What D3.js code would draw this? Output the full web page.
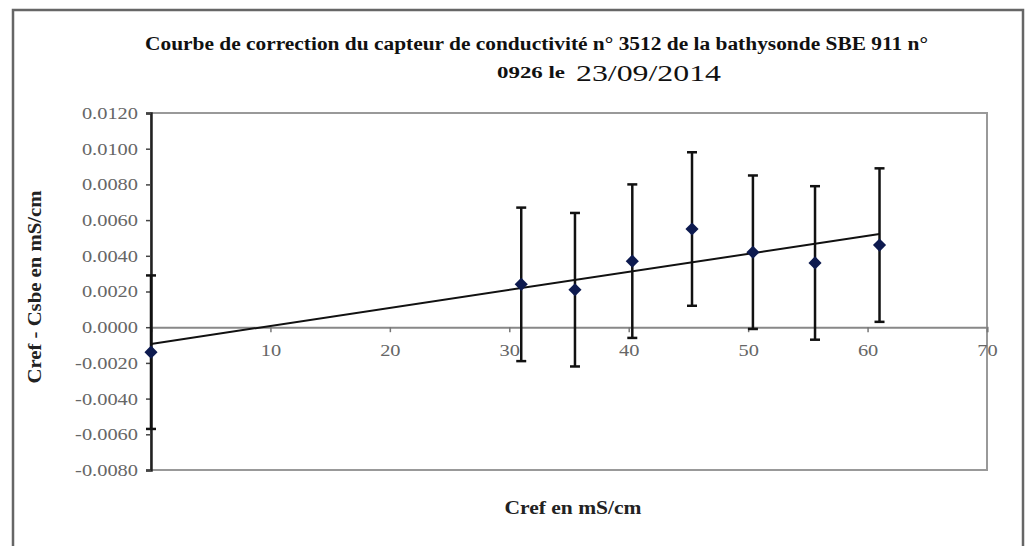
<!DOCTYPE html>
<html>
<head>
<meta charset="utf-8">
<script src="https://cdn.jsdelivr.net/npm/d3@7"></script>
<style>
  body { margin: 0; background: #fff; }
  svg text { font-family: "Liberation Serif", "Times New Roman", serif; }
</style>
</head>
<body>
<div id="chart"></div>
<script>
// valeurs
var cref = [0, 31.0, 35.5, 40.3, 45.3, 50.4, 55.6, 61.0];
var ecart = [-0.0014, 0.0024, 0.0021, 0.0037, 0.0055, 0.0042, 0.0036, 0.0046];
var incertitude = [0.0043, 0.0043, 0.0043, 0.0043, 0.0043, 0.0043, 0.0043, 0.0043];
var xTicks = [10, 20, 30, 40, 50, 60, 70];
var yTicks = [-0.008, -0.006, -0.004, -0.002, 0, 0.002, 0.004, 0.006, 0.008, 0.010, 0.012];

var width = 1036, height = 546;
var serif = '"Liberation Serif", "Times New Roman", serif';

var svg = d3.select('#chart')
    .append('svg')
    .attr('width', width)
    .attr('height', height);

// cadre extérieur
svg.append('rect')
    .attr('x', 13).attr('y', 10)
    .attr('width', 1010).attr('height', 560)
    .attr('fill', 'none')
    .attr('stroke', '#666')
    .attr('stroke-width', 2.5);

var x = d3.scaleLinear().domain([0, 70]).range([151, 987]);
var y = d3.scaleLinear().domain([-0.008, 0.012]).range([470, 113]);

// zone de tracé
svg.append('rect')
    .attr('x', x(0)).attr('y', y(0.012))
    .attr('width', x(70) - x(0)).attr('height', y(-0.008) - y(0.012))
    .attr('fill', 'none')
    .attr('stroke', '#999')
    .attr('stroke-width', 2);

// étire un peu les libellés (police plus large sur l'original)
function etirer(sel, k) {
    sel.each(function () {
        var w = this.getComputedTextLength();
        d3.select(this).attr('textLength', w * k).attr('lengthAdjust', 'spacingAndGlyphs');
    });
}

// axe X à y = 0
var xAxis = d3.axisBottom(x).tickValues(xTicks).tickSize(5).tickFormat(d3.format('d'));
var gx = svg.append('g')
    .attr('transform', 'translate(0,' + y(0) + ')')
    .call(xAxis);
gx.select('.domain').attr('stroke', '#888').attr('stroke-width', 2);
gx.selectAll('.tick line').attr('stroke', '#777').attr('stroke-width', 1.5);
gx.selectAll('.tick text')
    .attr('dy', '1.2em')
    .attr('fill', '#666')
    .style('font-size', '17px')
    .style('font-family', serif)
    .call(etirer, 1.2);

// axe Y
var yAxis = d3.axisLeft(y).tickValues(yTicks).tickSize(5).tickPadding(8)
    .tickFormat(d => d3.format('.4f')(d).replace('\u2212', '-'));
var gy = svg.append('g')
    .attr('transform', 'translate(' + x(0) + ',0)')
    .call(yAxis);
gy.select('.domain').attr('stroke', '#222').attr('stroke-width', 2.5);
gy.selectAll('.tick line').attr('stroke', '#444').attr('stroke-width', 1.5);
gy.selectAll('.tick text')
    .attr('fill', '#666')
    .style('font-size', '17px')
    .style('font-family', serif)
    .call(etirer, 1.2);

// droite de régression (moindres carrés)
var mx = d3.mean(cref), my = d3.mean(ecart);
var sxy = d3.sum(cref, (d, i) => (d - mx) * (ecart[i] - my));
var sxx = d3.sum(cref, d => (d - mx) * (d - mx));
var pente = sxy / sxx;
var origine = my - pente * mx;
var xr = d3.extent(cref);
svg.append('line')
    .attr('x1', x(xr[0])).attr('y1', y(origine + pente * xr[0]))
    .attr('x2', x(xr[1])).attr('y2', y(origine + pente * xr[1]))
    .attr('stroke', '#111')
    .attr('stroke-width', 2);

// barres d'erreur
var points = cref.map((d, i) => ({ x: d, y: ecart[i], e: incertitude[i] }));
var bars = svg.append('g').selectAll('g')
    .data(points)
    .enter()
    .append('g')
    .attr('stroke', '#111')
    .attr('stroke-width', 2.5);
bars.append('line')
    .attr('x1', d => x(d.x)).attr('x2', d => x(d.x))
    .attr('y1', d => y(d.y + d.e)).attr('y2', d => y(d.y - d.e));
bars.append('line')
    .attr('x1', d => x(d.x) - 5).attr('x2', d => x(d.x) + 5)
    .attr('y1', d => y(d.y + d.e)).attr('y2', d => y(d.y + d.e));
bars.append('line')
    .attr('x1', d => x(d.x) - 5).attr('x2', d => x(d.x) + 5)
    .attr('y1', d => y(d.y - d.e)).attr('y2', d => y(d.y - d.e));

// marqueurs losanges
svg.append('g').selectAll('path')
    .data(points)
    .enter()
    .append('path')
    .attr('d', d3.symbol(d3.symbolDiamond2, 110))
    .attr('transform', d => 'translate(' + x(d.x) + ',' + y(d.y) + ')')
    .attr('fill', '#0d1a4f');

// titre
svg.append('text')
    .attr('x', 145).attr('y', 50)
    .attr('textLength', 783)
    .attr('lengthAdjust', 'spacingAndGlyphs')
    .style('font-size', '18px')
    .style('font-weight', 'bold')
    .attr('fill', '#111')
    .text('Courbe de correction du capteur de conductivité n° 3512 de la bathysonde SBE 911 n°');
svg.append('text')
    .attr('x', 497).attr('y', 78)
    .attr('textLength', 68)
    .attr('lengthAdjust', 'spacingAndGlyphs')
    .style('font-size', '17px')
    .style('font-weight', 'bold')
    .attr('fill', '#111')
    .text('0926 le');
svg.append('text')
    .attr('x', 576).attr('y', 81)
    .attr('textLength', 145)
    .attr('lengthAdjust', 'spacingAndGlyphs')
    .style('font-size', '23px')
    .attr('fill', '#111')
    .text('23/09/2014');

// titres des axes
svg.append('text')
    .attr('x', 573).attr('y', 514)
    .attr('text-anchor', 'middle')
    .attr('textLength', 137)
    .attr('lengthAdjust', 'spacingAndGlyphs')
    .style('font-size', '18px')
    .style('font-weight', 'bold')
    .attr('fill', '#222')
    .text('Cref en mS/cm');
svg.append('text')
    .attr('transform', 'translate(41,287) rotate(-90)')
    .attr('text-anchor', 'middle')
    .attr('textLength', 193)
    .attr('lengthAdjust', 'spacingAndGlyphs')
    .style('font-size', '18px')
    .style('font-weight', 'bold')
    .attr('fill', '#222')
    .text('Cref - Csbe en mS/cm');
</script>
</body>
</html>
